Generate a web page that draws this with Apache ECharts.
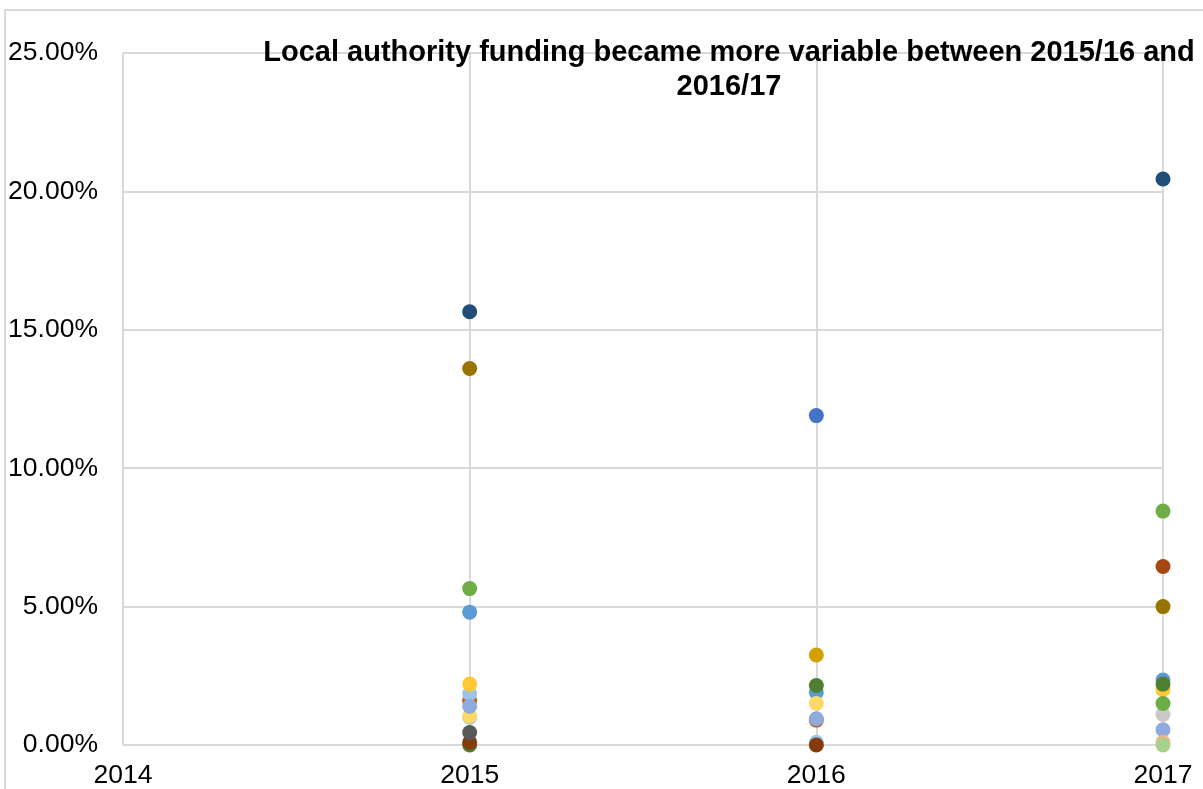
<!DOCTYPE html>
<html>
<head>
<meta charset="utf-8">
<script src="https://cdn.jsdelivr.net/npm/echarts@6/dist/echarts.min.js"></script>
<style>
  html, body { margin: 0; padding: 0; background: #ffffff; }
  #chart { width: 1203px; height: 789px; }
</style>
</head>
<body>
<div id="chart"></div>
<script>
// Year-on-year change in funding (%), one array per local authority: [2015, 2016, 2017]
const years = [2015, 2016, 2017];
const yTicks = [0, 5, 10, 15, 20, 25];

const la01 = [4.8, 1.9, 2.35];
const la02 = [1.0, null, null];
const la03 = [1.6, 0.9, null];
const la04 = [1.85, 0.1, null];
const la05 = [1.05, 1.5, null];
const la06 = [1.4, 0.95, 0.55];
const la07 = [2.2, null, 2.0];
const la08 = [0.0, 2.15, 2.2];
const la09 = [0.1, 0.0, null];
const la10 = [0.45, null, null];
const la11 = [null, 3.25, null];
const la12 = [null, 11.9, null];
const la13 = [15.65, null, 20.45];
const la14 = [13.6, null, 5.0];
const la15 = [5.65, null, 8.45];
const la16 = [null, null, 1.1];
const la17 = [null, null, 1.5];
const la18 = [null, null, 0.1];
const la19 = [null, null, 0.0];
const la20 = [null, null, 6.45];

const authorities = [la01, la02, la03, la04, la05, la06, la07, la08, la09, la10,
                     la11, la12, la13, la14, la15, la16, la17, la18, la19, la20];

// marker colours, in the same order as the authorities above
const palette = ['#5B9BD5', '#9DC3E6', '#C55A11', '#9DC3E6', '#FFD966', '#8FAADC',
                 '#FFC832', '#4F7F31', '#843C0C', '#595959', '#D4A000', '#4472C4',
                 '#1F4E79', '#997300', '#70AD47', '#C9C9C9', '#6AAE45', '#F4B183',
                 '#A9D18E', '#A5480F'];

const titleText = 'Local authority funding became more variable between 2015/16 and\n2016/17';

const series = authorities.map((vals, i) => ({
  type: 'scatter',
  symbol: 'circle',
  symbolSize: 15,
  itemStyle: { color: palette[i], opacity: 1 },
  emphasis: { disabled: true },
  data: years.map((y, j) => [y, vals[j]]).filter(p => p[1] !== null)
}));

const gridLine = { show: true, lineStyle: { color: '#d9d9d9', width: 2 } };
const labelFont = { fontFamily: 'Liberation Sans, Arial, sans-serif', fontSize: 26.5, color: '#000000' };

const chart = echarts.init(document.getElementById('chart'), null, { renderer: 'canvas' });
chart.setOption({
  animation: false,
  backgroundColor: '#ffffff',
  grid: { left: 123, top: 53, right: 40, bottom: 43, containLabel: false },
  xAxis: {
    type: 'value',
    min: 2014,
    max: 2017,
    interval: 1,
    axisLine: { show: false },
    axisTick: { show: false },
    splitLine: gridLine,
    axisLabel: Object.assign({ margin: 17, formatter: v => String(v) }, labelFont)
  },
  yAxis: {
    type: 'value',
    min: yTicks[0],
    max: yTicks[yTicks.length - 1],
    interval: 5,
    axisLine: { show: false },
    axisTick: { show: false },
    splitLine: gridLine,
    axisLabel: Object.assign({ margin: 25, formatter: v => v.toFixed(2) + '%' }, labelFont)
  },
  graphic: [
    {
      type: 'rect',
      silent: true,
      z: -1,
      shape: { x: 5, y: 10, width: 1300, height: 900 },
      style: { fill: 'none', stroke: '#d9d9d9', lineWidth: 2 }
    },
    {
      type: 'text',
      silent: true,
      z: 100,
      x: 729,
      y: 36,
      style: {
        text: titleText,
        font: 'bold 29px "Liberation Sans", Arial, sans-serif',
        fill: '#000000',
        textAlign: 'center',
        lineHeight: 34
      }
    }
  ],
  series: series
});
</script>
</body>
</html>
